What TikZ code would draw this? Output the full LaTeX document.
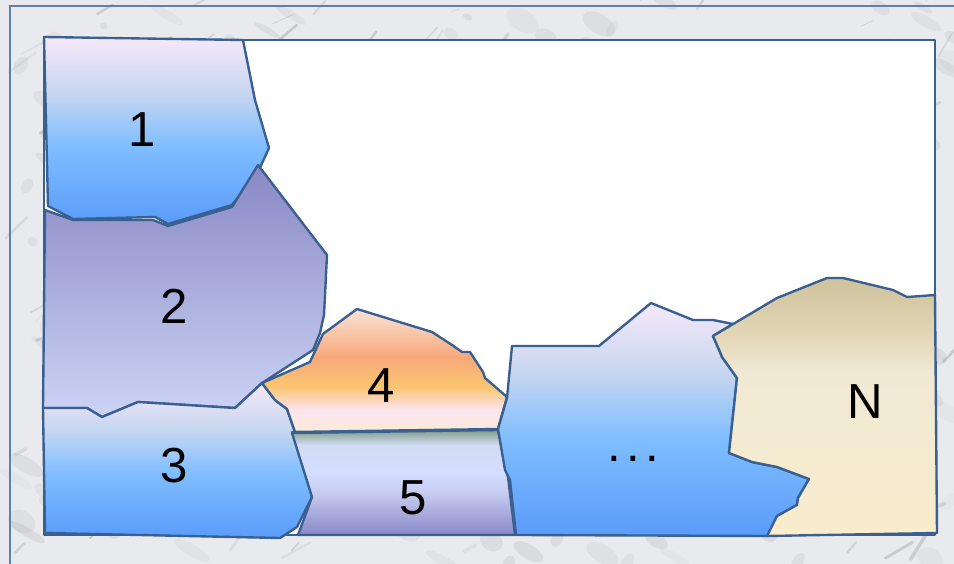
\documentclass[tikz,border=0pt]{standalone}
\usepackage{fontspec}
\setmainfont{Liberation Sans}
\begin{document}
\definecolor{edge}{RGB}{58,96,145}
\definecolor{marble}{RGB}{232,234,237}
\definecolor{vein}{RGB}{140,142,148}
\definecolor{twotop}{RGB}{136,136,196}
\definecolor{twobot}{RGB}{205,212,245}
\pgfdeclareverticalshading{bluepink}{100bp}{rgb(0bp)=(0.35,0.61,0.98); rgb(25bp)=(0.35,0.61,0.98); rgb(46bp)=(0.5,0.745,1); rgb(60bp)=(0.78,0.84,0.94); rgb(75bp)=(0.965,0.91,0.98); rgb(100bp)=(0.965,0.91,0.98)}
\pgfdeclareverticalshading{sunset}{100bp}{rgb(0bp)=(0.98,0.92,0.84); rgb(25bp)=(0.98,0.92,0.84); rgb(34bp)=(0.99,0.9,0.94); rgb(43.5bp)=(0.98,0.77,0.44); rgb(55.5bp)=(0.97,0.66,0.48); rgb(75bp)=(0.98,0.89,0.84); rgb(100bp)=(0.98,0.89,0.84)}
\pgfdeclareverticalshading{lavender}{100bp}{rgb(0bp)=(0.53,0.53,0.78); rgb(25bp)=(0.53,0.53,0.78); rgb(45bp)=(0.78,0.8,0.94); rgb(55bp)=(0.83,0.87,1); rgb(68bp)=(0.82,0.86,0.95); rgb(75bp)=(0.51,0.61,0.53); rgb(100bp)=(0.51,0.61,0.53)}
\pgfdeclareverticalshading{sand}{100bp}{rgb(0bp)=(0.98,0.925,0.8); rgb(25bp)=(0.98,0.925,0.8); rgb(41.5bp)=(0.96,0.92,0.82); rgb(57bp)=(0.94,0.91,0.83); rgb(65bp)=(0.88,0.83,0.7); rgb(75bp)=(0.81,0.76,0.61); rgb(100bp)=(0.81,0.76,0.61)}
\begin{tikzpicture}[x=0.02cm,y=-0.02cm,
  region/.style={draw=edge,line width=1.35pt,line join=round},
  label/.style={font=\fontsize{28}{30}\selectfont,inner sep=0pt}]
\useasboundingbox (0,0) rectangle (954,564);
% marble background
\fill[marble] (0,0) rectangle (954,564);
\begin{scope}
\clip (0,0) rectangle (954,564);
\pgfmathsetseed{17}
\foreach \i in {1,...,260}{
  \pgfmathsetmacro{\xa}{rnd*954}
  \pgfmathsetmacro{\ya}{rnd*564}
  \pgfmathsetmacro{\ra}{4+rnd*18}
  \pgfmathsetmacro{\rb}{3+rnd*8}
  \pgfmathsetmacro{\op}{0.04+rnd*0.12}
  \fill[vein,opacity=\op,rotate around={-30:(\xa,\ya)}] (\xa,\ya) ellipse [x radius=\ra, y radius=\rb];
}
\foreach \i in {1,...,140}{
  \pgfmathsetmacro{\xa}{rnd*954}
  \pgfmathsetmacro{\ya}{rnd*564}
  \pgfmathsetmacro{\ang}{-20-rnd*40}
  \pgfmathsetmacro{\len}{8+rnd*30}
  \pgfmathsetmacro{\op}{0.1+rnd*0.3}
  \pgfmathsetmacro{\lw}{0.3+rnd*1.8}
  \draw[vein,opacity=\op,line width=\lw pt,line cap=round] (\xa,\ya) -- ++(\ang:\len);
}
\end{scope}
\draw[edge!80,line width=1pt] (10,570) -- (10,6) -- (960,6);
% white field
\draw[region,fill=white] (44,40) rectangle (935,535);
% region 1
\draw[region,shading=bluepink] (44,37) -- (243,40) -- (255,100) -- (269,148) -- (258,172) -- (232,205) -- (168,224) -- (155,217) -- (73,219) -- (48,206) -- cycle;
% region 2
\draw[region,top color=twotop,bottom color=twobot] (45,210) -- (73,220) -- (153,220) -- (168,226) -- (232,207) -- (258,165) -- (327,255) -- (324,315) -- (320,333) -- (313,350) -- (262,383) -- (235,408) -- (138,402) -- (102,417) -- (87,408) -- (43,408) -- cycle;
% region 3
\draw[region,shading=bluepink] (43,408) -- (87,408) -- (102,417) -- (138,402) -- (235,408) -- (262,383) -- (275,400) -- (287,409) -- (295,432) -- (312,497) -- (297,527) -- (280,538) -- (45,533) -- cycle;
% region 4
\draw[region,shading=sunset] (262,383) -- (310,362) -- (323,334) -- (357,309) -- (432,332) -- (452,345) -- (462,352) -- (470,352) -- (483,372) -- (485,378) -- (507,397) -- (498,429) -- (292,432) -- (295,432) -- (287,409) -- (275,400) -- cycle;
% region 5
\draw[region,shading=lavender] (292,433) -- (498,430) -- (508,477) -- (515,535) -- (298,535) -- (312,497) -- cycle;
% region ...
\draw[region,shading=bluepink] (512,346) -- (599,346) -- (651,303) -- (693,320) -- (713,320) -- (733,324) -- (713,336) -- (720,352) -- (722,357) -- (737,378) -- (729,453) -- (752,462) -- (777,467) -- (809,479) -- (798,498) -- (797,505) -- (777,516) -- (768,536) -- (516,535) -- (510,480) -- (505,470) -- (498,429) -- (507,398) -- cycle;
% region N
\draw[region,shading=sand] (713,336) -- (777,298) -- (827,278) -- (843,278) -- (893,290) -- (907,297) -- (935,295) -- (937,533) -- (767,536) -- (777,516) -- (797,505) -- (798,498) -- (809,479) -- (777,467) -- (752,462) -- (729,453) -- (737,378) -- (722,357) -- (720,352) -- cycle;
% labels
\node[label] (l1) at (142,130) {1};
\node[label] (l2) at (174,306) {2};
\node[label] (l3) at (174,466) {3};
\node[label] (l4) at (381,386) {4};
\node[label] (l5) at (413,498) {5};
\node[label,anchor=base] (ldots) at (633,461) {.\hspace{3pt}.\hspace{3pt}.};
\node[label] (lN) at (865,402) {N};
\end{tikzpicture}
\end{document}
